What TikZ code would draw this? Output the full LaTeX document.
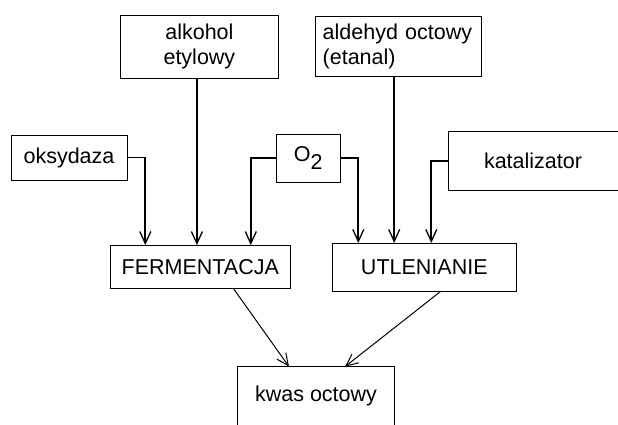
\documentclass[tikz,border=0pt]{standalone}
\usepackage{fontspec}
\setmainfont{Liberation Sans}
\usetikzlibrary{arrows.meta,positioning}

\begin{document}
\begin{tikzpicture}[
  x=1pt,
  y=-1pt,
  box/.style={
    draw=black,
    line width=0.9pt,
    inner sep=0pt,
    outer sep=0pt,
    align=center,
    font=\fontsize{21.5}{25}\selectfont
  },
  feed/.style={-{Straight Barb[length=12pt,width=11pt,line width=1.3pt]}, line width=1.7pt},
  product/.style={-{Straight Barb[length=12pt,width=11pt,line width=1pt]}, line width=1pt}
]
  \clip (0,0) rectangle (618,424);
  \useasboundingbox (0,0) rectangle (618,424);

  % substraty i czynniki
  \node[box, minimum width=157.3pt, minimum height=63pt] (alkohol) at (199.4,46.5)
    {alkohol\\etylowy};
  \node[box, align=left, text width=152pt, inner xsep=7pt, minimum height=60pt] (aldehyd)
    at (398.7,46) {aldehyd octowy\\(etanal)};
  \node[box, minimum width=116pt, minimum height=45pt] (oksydaza) at (69,157.5) {oksydaza};
  \node[box, minimum width=64.7pt, minimum height=48pt] (tlen) at (308.3,158)
    {O\raisebox{-8pt}{2}};
  \node[box, minimum width=170pt, minimum height=58.3pt] (katalizator) at (533,160.9)
    {katalizator};

  % procesy
  \node[box, minimum width=179.3pt, minimum height=43.3pt] (fermentacja) at (200.3,266.7)
    {FERMENTACJA};
  \node[box, minimum width=184.7pt, minimum height=48.7pt] (utlenianie) at (424.3,267.3)
    {UTLENIANIE};

  % produkt
  \node[box, minimum width=156.6pt, minimum height=59.3pt] (kwas) at (316,396.3)
    {kwas octowy};

  \draw[feed] (oksydaza.east) -| ([xshift=-55pt]fermentacja.north);
  \draw[feed] ([xshift=-2.5pt]alkohol.south) -- ([xshift=-2.5pt]alkohol.south |- fermentacja.north);
  \draw[feed] (tlen.west) -| ([xshift=50.5pt]fermentacja.north);
  \draw[feed] (tlen.east) -| ([xshift=-66pt]utlenianie.north);
  \draw[feed] ([xshift=-4.5pt]aldehyd.south) -- ([xshift=-4.5pt]aldehyd.south |- utlenianie.north);
  \draw[feed] (katalizator.west) -| ([xshift=7pt]utlenianie.north);

  \draw[product] ([xshift=33pt]fermentacja.south) -- ([xshift=-27pt]kwas.north);
  \draw[product] ([xshift=16pt]utlenianie.south) -- ([xshift=29pt]kwas.north);
\end{tikzpicture}
\end{document}
